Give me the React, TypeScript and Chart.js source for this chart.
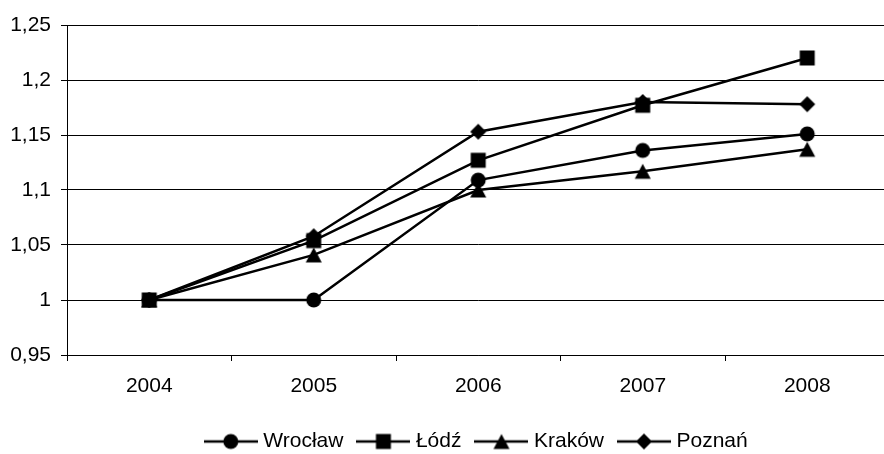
import React, { useEffect, useRef } from 'react';
import { Chart, registerables } from 'chart.js';

Chart.register(...registerables);

const categories = ['2004', '2005', '2006', '2007', '2008'];
const seriesNames = ['Wrocław', 'Łódź', 'Kraków', 'Poznań'];
const wroclaw = [1.0, 1.0, 1.109, 1.136, 1.151];
const lodz = [1.0, 1.054, 1.127, 1.177, 1.22];
const krakow = [1.0, 1.041, 1.1, 1.117, 1.137];
const poznan = [1.0, 1.058, 1.153, 1.18, 1.178];
const markerShapes = ['circle', 'square', 'triangle', 'diamond'];
const yMin = 0.95;
const yMax = 1.25;
const yStep = 0.05;

const FONT = { family: '"Liberation Sans", Arial, sans-serif', size: 21 };

function drawMarker(ctx: CanvasRenderingContext2D, shape: string, cx: number, cy: number) {
  ctx.fillStyle = '#000';
  ctx.beginPath();
  if (shape === 'circle') {
    ctx.arc(cx, cy, 7.5, 0, Math.PI * 2);
  } else if (shape === 'square') {
    ctx.rect(cx - 7.5, cy - 7.5, 15, 15);
  } else if (shape === 'triangle') {
    ctx.moveTo(cx, cy - 7.5);
    ctx.lineTo(cx + 8, cy + 7.5);
    ctx.lineTo(cx - 8, cy + 7.5);
    ctx.closePath();
  } else {
    ctx.moveTo(cx, cy - 8);
    ctx.lineTo(cx + 8, cy);
    ctx.lineTo(cx, cy + 8);
    ctx.lineTo(cx - 8, cy);
    ctx.closePath();
  }
  ctx.fill();
}

function makeMarker(shape: string) {
  const c = document.createElement('canvas');
  c.width = 20;
  c.height = 20;
  const ctx = c.getContext('2d')!;
  drawMarker(ctx, shape, 10, 10);
  return c;
}

function makeLegendSymbol(shape: string) {
  const c = document.createElement('canvas');
  c.width = 54;
  c.height = 20;
  const ctx = c.getContext('2d')!;
  ctx.strokeStyle = '#000';
  ctx.lineWidth = 2.5;
  ctx.beginPath();
  ctx.moveTo(0, 10);
  ctx.lineTo(54, 10);
  ctx.stroke();
  drawMarker(ctx, shape, 27, 10);
  return c;
}

export default function App() {
  const ref = useRef<HTMLCanvasElement | null>(null);

  useEffect(() => {
    if (!ref.current) return;
    const markers = markerShapes.map(makeMarker);
    const legendSymbols = markerShapes.map(makeLegendSymbol);
    const seriesData = [wroclaw, lodz, krakow, poznan];

    const chart = new Chart(ref.current, {
      type: 'line',
      data: {
        labels: categories,
        datasets: seriesNames.map((name, i) => ({
          label: name,
          data: seriesData[i],
          borderColor: '#000',
          backgroundColor: '#000',
          borderWidth: 2.5,
          pointStyle: markers[i] as any,
          pointRadius: 8,
          pointHoverRadius: 8,
          tension: 0,
          fill: false,
        })),
      },
      options: {
        animation: false,
        responsive: false,
        events: [],
        layout: { padding: { left: 0, right: 5, top: 25, bottom: 0 } },
        plugins: {
          tooltip: { enabled: false },
          legend: {
            position: 'bottom',
            fullSize: false,
            labels: {
              font: FONT,
              color: '#000',
              usePointStyle: true,
              pointStyleWidth: 44,
              padding: 18,
              generateLabels: () =>
                seriesNames.map((n, i) => ({
                  text: n,
                  pointStyle: legendSymbols[i] as any,
                  fillStyle: '#000',
                  strokeStyle: '#000',
                  lineWidth: 0,
                  hidden: false,
                  datasetIndex: i,
                  fontColor: '#000',
                })),
            },
          },
        },
        scales: {
          x: {
            type: 'category',
            offset: true,
            grid: {
              offset: true,
              drawOnChartArea: false,
              drawTicks: true,
              tickLength: 6,
              color: '#000',
            },
            border: { color: '#000', width: 1 },
            ticks: { color: '#000', font: FONT, padding: 13, maxRotation: 0, autoSkip: false },
            afterFit: (s: any) => {
              s.height = 58;
            },
          },
          y: {
            min: yMin,
            max: yMax,
            ticks: {
              stepSize: yStep,
              color: '#000',
              font: FONT,
              padding: 10,
              callback: (v: any) => String(Math.round(Number(v) * 100) / 100).replace('.', ','),
            },
            grid: { color: '#000', lineWidth: 1, tickLength: 6 },
            border: { color: '#000', width: 1 },
            afterFit: (s: any) => {
              s.width = 67;
            },
          },
        },
      },
    });
    return () => chart.destroy();
  }, []);

  return (
    <div
      style={{
        position: 'fixed',
        left: 0,
        top: 0,
        width: 884,
        height: 454,
        overflow: 'hidden',
        background: '#fff',
      }}
    >
      <canvas ref={ref} width={900} height={462} style={{ display: 'block', width: 900, height: 462 }} />
    </div>
  );
}
